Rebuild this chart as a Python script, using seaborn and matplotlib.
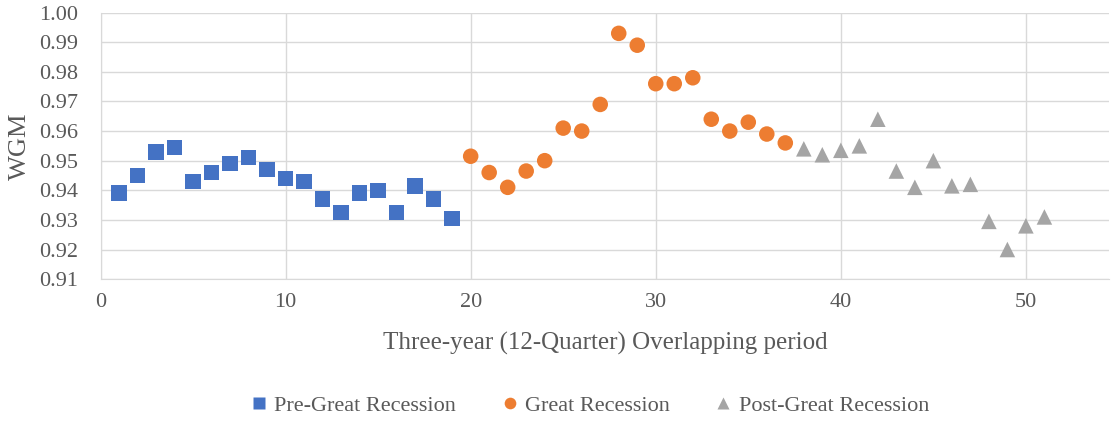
import pandas as pd
import matplotlib.pyplot as plt
import seaborn as sns

# 数据
pre_x = list(range(1, 20))
pre_y = [0.939, 0.945, 0.953, 0.9545, 0.943, 0.946, 0.949, 0.951, 0.947, 0.944,
         0.943, 0.937, 0.9325, 0.939, 0.940, 0.9325, 0.9415, 0.937, 0.9305]
great_x = list(range(20, 38))
great_y = [0.9515, 0.946, 0.941, 0.9465, 0.950, 0.961, 0.960, 0.969, 0.993, 0.989,
           0.976, 0.976, 0.978, 0.964, 0.960, 0.963, 0.959, 0.956]
post_x = list(range(38, 52))
post_y = [0.954, 0.952, 0.9535, 0.955, 0.964, 0.9465, 0.941, 0.950, 0.9415, 0.942,
          0.9295, 0.920, 0.928, 0.931]

groups = ['Pre-Great Recession', 'Great Recession', 'Post-Great Recession']
df = pd.DataFrame({
    'period': pre_x + great_x + post_x,
    'WGM': pre_y + great_y + post_y,
    'group': [groups[0]] * len(pre_x) + [groups[1]] * len(great_x) + [groups[2]] * len(post_x),
})

sns.set_style('whitegrid')
plt.rcParams['font.family'] = ['Liberation Serif', 'DejaVu Serif']
txt = '#595959'

fig, ax = plt.subplots(figsize=(11.17, 4.21), dpi=100)
fig.subplots_adjust(left=0.09, right=0.993, top=0.97, bottom=0.337)

sns.scatterplot(data=df, x='period', y='WGM', hue='group', style='group',
                hue_order=groups, style_order=groups,
                palette=['#4472C4', '#ED7D31', '#A5A5A5'],
                markers={groups[0]: 's', groups[1]: 'o', groups[2]: '^'},
                s=125, edgecolor='none', ax=ax)

ax.set_xlim(0, 54.5)
ax.set_ylim(0.91, 1.00)
ax.set_xticks([0, 10, 20, 30, 40, 50])
ax.set_yticks([0.91 + 0.01 * i for i in range(10)])
ax.set_yticklabels([f'{0.91 + 0.01 * i:.2f}' for i in range(10)])
ax.grid(True, color='#d9d9d9', linewidth=1)
for s in ax.spines.values():
    s.set_visible(False)
ax.spines['left'].set_visible(True)
ax.spines['bottom'].set_visible(True)
ax.spines['left'].set_color('#d9d9d9')
ax.spines['bottom'].set_color('#d9d9d9')
ax.tick_params(colors=txt, labelsize=16, length=0)
ax.tick_params(axis='y', pad=16)
ax.tick_params(axis='x', pad=10)
ax.set_xlabel('Three-year (12-Quarter) Overlapping period', fontsize=18, color=txt, labelpad=14)
ax.set_ylabel('WGM', fontsize=19, color=txt, labelpad=6)

ax.legend(loc='upper center', bbox_to_anchor=(0.485, -0.36), ncol=3, frameon=False,
          fontsize=16, labelcolor=txt, handlelength=0.8, handletextpad=0.3,
          columnspacing=2.0, markerscale=0.75)

plt.savefig('out.png')
